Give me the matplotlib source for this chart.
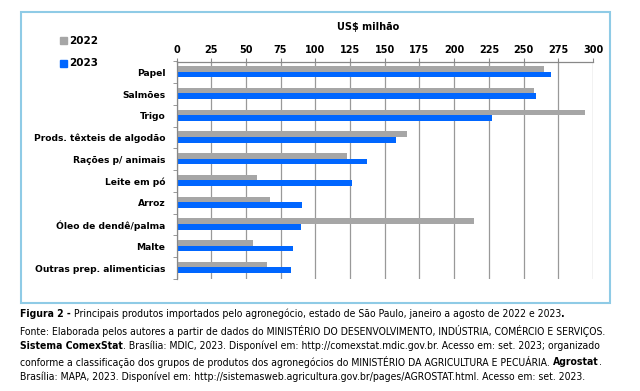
import matplotlib.pyplot as plt
import matplotlib.patches as mpatches
from matplotlib import font_manager
import numpy as np

categorias = ['Papel', 'Salmões', 'Trigo', 'Prods. têxteis de algodão', 'Rações p/ animais',
              'Leite em pó', 'Arroz', 'Óleo de dendê/palma', 'Malte', 'Outras prep. alimenticias']
v2022 = [265, 257.5, 294, 166, 123, 58, 67, 214.5, 55, 65.5]
v2023 = [270, 259, 227, 158, 137, 126.5, 90.5, 90, 84, 82.5]
ticks = [0, 25, 50, 75, 100, 125, 150, 175, 200, 225, 250, 275, 300]

legenda_linhas = [
    [('Figura 2 - ', 'bold'),
     ('Principais produtos importados pelo agronegócio, estado de São Paulo, janeiro a agosto de 2022 e 2023', 'normal'),
     ('.', 'bold')],
    [('Fonte: Elaborada pelos autores a partir de dados do MINISTÉRIO DO DESENVOLVIMENTO, '
      'INDÚSTRIA, COMÉRCIO E SERVIÇOS.', 'normal')],
    [('Sistema ComexStat', 'bold'),
     ('. Brasília: MDIC, 2023. Disponível em: http://comexstat.mdic.gov.br. Acesso em: set. 2023; organizado', 'normal')],
    [('conforme a classificação dos grupos de produtos dos agronegócios do MINISTÉRIO DA '
      'AGRICULTURA E PECUÁRIA. ', 'normal'), ('Agrostat', 'bold'), ('.', 'normal')],
    [('Brasília: MAPA, 2023. Disponível em: http://sistemasweb.agricultura.gov.br/pages/'
      'AGROSTAT.html. Acesso em: set. 2023.', 'normal')],
]
linhas_y = [314, 331, 346, 362, 377]

cinza = '#A6A6A6'
azul = '#0066FF'

W, H = 640, 391
fig = plt.figure(figsize=(6.4, 3.91), dpi=100)


def fx(x):
    return x / W


def fy(y):
    return 1 - y / H


# procura uma fonte estreita para a legenda
narrow = {}
for f in font_manager.fontManager.ttflist:
    nome = f.name.lower()
    estreita = 'narrow' in nome or 'condensed' in nome or f.stretch in ('condensed', 'semi-condensed')
    if estreita and ('dejavu sans' in nome or 'liberation sans' in nome or 'open sans' in nome
                     or 'noto sans' == nome or 'roboto' in nome):
        peso = 'bold' if (f.weight in ('bold', 700) or 'bold' in f.fname.lower()) else 'normal'
        if 'oblique' in f.fname.lower() or 'italic' in f.fname.lower():
            continue
        narrow.setdefault(peso, f.fname)

# moldura do grafico
fig.patches.append(mpatches.Rectangle((fx(21), fy(303)), fx(610) - fx(21), fy(12) - fy(303),
                                      transform=fig.transFigure, fill=False,
                                      edgecolor='#8FCBE6', linewidth=1.5))

ax = fig.add_axes([fx(176.5), fy(279), fx(593) - fx(176.5), fy(61.5) - fy(279)])
y = np.arange(len(categorias))
h = 0.26
ax.barh(y - 0.16, v2022, height=h, color=cinza, label='2022')
ax.barh(y + 0.10, v2023, height=h, color=azul, label='2023')

ax.set_xlim(0, 300)
ax.set_ylim(len(categorias) - 0.5, -0.5)
ax.xaxis.tick_top()
ax.set_xticks(ticks)
ax.set_xticklabels([str(t) for t in ticks], fontsize=7, fontweight='bold')
ax.set_yticks(y)
ax.set_yticklabels(categorias, fontsize=6.6, fontweight='bold')
ax.set_yticks(np.arange(len(categorias) + 1) - 0.5, minor=True)
ax.tick_params(axis='y', which='major', length=0, pad=8)
ax.tick_params(axis='y', which='minor', length=3, color='#888888')
ax.tick_params(axis='x', length=3, color='#888888', pad=2)
ax.grid(axis='x', color='#999999', linewidth=0.9)
ax.set_axisbelow(True)
for s in ['right', 'bottom']:
    ax.spines[s].set_visible(False)
for s in ['left', 'top']:
    ax.spines[s].set_color('#888888')
    ax.spines[s].set_linewidth(0.9)

fig.text(fx(368), fy(27), 'US$ milhão', fontsize=7, fontweight='bold', ha='center', va='center')

# legenda
fig.patches.append(mpatches.Rectangle((fx(60), fy(44)), fx(7), 7 / H, transform=fig.transFigure,
                                      color=cinza))
fig.patches.append(mpatches.Rectangle((fx(60), fy(67)), fx(7), 7 / H, transform=fig.transFigure,
                                      color=azul))
fig.text(fx(69), fy(40.5), '2022', fontsize=7.5, fontweight='bold', va='center')
fig.text(fx(69), fy(63.5), '2023', fontsize=7.5, fontweight='bold', va='center')


# legenda da figura, em pedacos (negrito / normal)
def props(peso, tam):
    if peso in narrow:
        return font_manager.FontProperties(fname=narrow[peso], size=tam)
    return font_manager.FontProperties(family='DejaVu Sans', weight=peso, size=tam)


renderer = fig.canvas.get_renderer()


def largura(partes, tam):
    tot = 0
    for txt, peso in partes:
        t = fig.text(0, 0, txt, fontproperties=props(peso, tam))
        tot += t.get_window_extent(renderer).width
        t.remove()
    return tot


# tamanho para que a linha mais longa ocupe de 20 a 608 px
tam = 8.0
while largura(legenda_linhas[1], tam) > 588 and tam > 4:
    tam -= 0.1

for partes, yy in zip(legenda_linhas, linhas_y):
    x = 20
    for txt, peso in partes:
        t = fig.text(fx(x), fy(yy), txt, fontproperties=props(peso, tam), va='center')
        x += t.get_window_extent(renderer).width

fig.savefig('out.png', dpi=100)
